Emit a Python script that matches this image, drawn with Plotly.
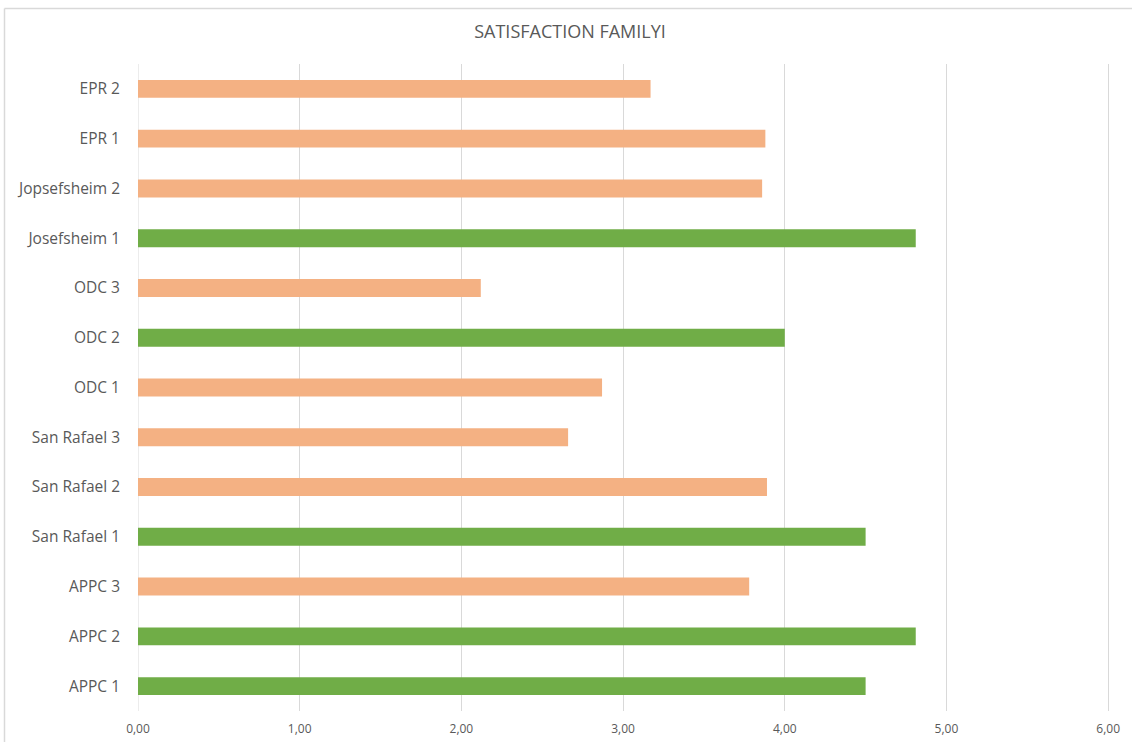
import plotly.graph_objects as go

# Facilities, listed bottom to top
categories = ["APPC 1", "APPC 2", "APPC 3", "San Rafael 1", "San Rafael 2", "San Rafael 3",
              "ODC 1", "ODC 2", "ODC 3", "Josefsheim 1", "Jopsefsheim 2", "EPR 1", "EPR 2"]
scores = [4.50, 4.81, 3.78, 4.50, 3.89, 2.66, 2.87, 4.00, 2.12, 4.81, 3.86, 3.88, 3.17]
highlight = [True, True, False, True, False, False, False, True, False, True, False, False, False]
x_ticks = [0, 1, 2, 3, 4, 5, 6]

GREEN = "#70AD47"
ORANGE = "#F4B183"
colors = [GREEN if h else ORANGE for h in highlight]

TEXT = "#595959"
GRID = "#d9d9d9"
FONT = "'Open Sans', Lato, sans-serif"

fig = go.Figure(go.Bar(
    y=categories,
    x=scores,
    orientation="h",
    marker=dict(color=colors, line=dict(width=0)),
    hoverinfo="x+y",
))

W, H = 1132, 742
ml, mr, mt, mb = 138, 19, 64, 31
pw, ph = W - ml - mr, H - mt - mb

fig.update_layout(
    width=W, height=H,
    margin=dict(l=ml, r=mr, t=mt, b=mb, autoexpand=False),
    paper_bgcolor="white",
    plot_bgcolor="white",
    separators=", ",
    bargap=0.64,
    showlegend=False,
    title=dict(text="SATISFACTION FAMILYI", x=570 / W, xanchor="center",
               y=1 - 32 / H, yanchor="middle",
               font=dict(family=FONT, size=18, color=TEXT)),
    xaxis=dict(range=[0, 6.03], tickvals=x_ticks, tickformat=".2f",
               showgrid=True, gridcolor=GRID, gridwidth=1,
               zeroline=False, showline=False, ticks="", automargin=False,
               ticklabelstandoff=9,
               tickfont=dict(family=FONT, size=12, color=TEXT)),
    yaxis=dict(categoryorder="array", categoryarray=categories,
               showgrid=False, zeroline=False, ticks="", showline=False,
               automargin=False, ticklabelstandoff=17,
               tickfont=dict(family=FONT, size=15.5, color=TEXT)),
    shapes=[
        # vertical axis line at zero
        dict(type="line", xref="x", yref="paper", x0=0, x1=0, y0=0, y1=1,
             line=dict(color=GRID, width=1), layer="below"),
        # chart-area frame (left and top edges)
        dict(type="line", xref="paper", yref="paper",
             x0=(4.5 - ml) / pw, x1=(4.5 - ml) / pw, y0=-mb / ph - 0.01, y1=1 + (mt - 8.5) / ph,
             line=dict(color=GRID, width=1.5)),
        dict(type="line", xref="paper", yref="paper",
             x0=(4.5 - ml) / pw, x1=1 + mr / pw + 0.01, y0=1 + (mt - 8.5) / ph, y1=1 + (mt - 8.5) / ph,
             line=dict(color=GRID, width=1.5)),
    ],
)

fig.write_html("out.html")
